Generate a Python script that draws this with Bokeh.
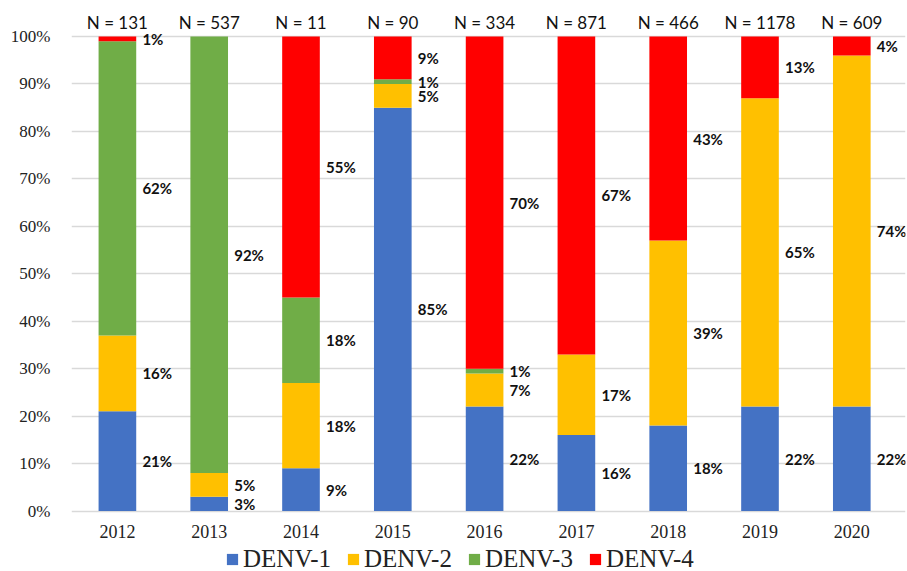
from bokeh.plotting import figure
from bokeh.models import ColumnDataSource, Range1d, FixedTicker, Legend, LegendItem, LabelSet
from bokeh.core.properties import value
from bokeh.embed import file_html
from bokeh.resources import INLINE

# ---- data (percent of typed cases per year) ----
years = ["2012", "2013", "2014", "2015", "2016", "2017", "2018", "2019", "2020"]
n_totals = [131, 537, 11, 90, 334, 871, 466, 1178, 609]
denv1 = [21, 3, 9, 85, 22, 16, 18, 22, 22]
denv2 = [16, 5, 18, 5, 7, 17, 39, 65, 74]
denv3 = [62, 92, 18, 1, 1, 0, 0, 0, 0]
denv4 = [1, 0, 55, 9, 70, 67, 43, 13, 4]
serotypes = ["DENV-1", "DENV-2", "DENV-3", "DENV-4"]
y_ticks = [0, 10, 20, 30, 40, 50, 60, 70, 80, 90, 100]

colors = ["#4472C4", "#FFC000", "#70AD47", "#FF0000"]
series = [denv1, denv2, denv3, denv4]
xi = list(range(len(years)))

src = ColumnDataSource(dict(xi=xi, **{s: v for s, v in zip(serotypes, series)}))

W, H = 907, 571
p = figure(
    x_range=Range1d(-0.5, 8.585),
    y_range=Range1d(-12.75, 107.59),
    width=W, height=H,
    output_backend="svg", toolbar_location=None,
    min_border_left=71, min_border_right=2, min_border_top=0, min_border_bottom=0,
    background_fill_color="white", border_fill_color="white",
)
p.outline_line_color = None

renderers = p.vbar_stack(serotypes, x="xi", width=0.41, source=src,
                         color=colors, line_color=None)

# segment labels at the middle of each segment
lx, ly, lt = [], [], []
for i in xi:
    base = 0
    for vals in series:
        v = vals[i]
        if v > 0:
            lx.append(i)
            ly.append(base + v / 2)
            lt.append(f"{v}%")
        base += v
p.add_layout(LabelSet(x="x", y="y", text="t",
                      source=ColumnDataSource(dict(x=lx, y=ly, t=lt)),
                      x_offset=25, text_align="left", text_baseline="middle",
                      text_font=value("Lato"), text_font_style="bold",
                      text_font_size="15px", text_color="#111111"))

# N labels above bars
p.add_layout(LabelSet(x="x", y="y", text="t",
                      source=ColumnDataSource(dict(x=xi, y=[100] * len(xi),
                                                   t=[f"N = {n}" for n in n_totals])),
                      y_offset=14, text_align="center", text_baseline="middle",
                      text_font=value("Lato"), text_font_size="17px",
                      text_color="#111111"))

# year (category) labels under the bars
p.add_layout(LabelSet(x="x", y="y", text="t",
                      source=ColumnDataSource(dict(x=xi, y=[0] * len(xi), t=years)),
                      y_offset=-20, text_align="center", text_baseline="middle",
                      text_font=value("Liberation Serif"), text_font_size="18px",
                      text_color="#222222"))

# y axis
p.yaxis.ticker = FixedTicker(ticks=y_ticks)
p.yaxis.major_label_overrides = {t: f"{t}%" for t in y_ticks}
p.yaxis.axis_line_color = None
p.yaxis.major_tick_line_color = None
p.yaxis.minor_tick_line_color = None
p.yaxis.major_label_standoff = 15
p.yaxis.major_label_text_font = "Liberation Serif"
p.yaxis.major_label_text_font_size = "17px"
p.yaxis.major_label_text_color = "#222222"

p.xaxis.visible = False
p.xgrid.grid_line_color = None
p.ygrid.ticker = FixedTicker(ticks=y_ticks)
p.ygrid.grid_line_color = "#D9D9D9"
p.ygrid.grid_line_width = 1.5

legend = Legend(
    items=[LegendItem(label=s, renderers=[r]) for s, r in zip(serotypes, renderers)],
    orientation="horizontal", location=(154, -2),
    label_text_font="Liberation Serif", label_text_font_size="25px",
    label_text_color="#222222", label_height=20,
    glyph_width=14, glyph_height=14, label_standoff=4, spacing=15,
    border_line_color=None, background_fill_alpha=0,
    padding=0, margin=0,
)
p.add_layout(legend, "center")

open("out.html", "w").write(file_html(p, INLINE))
